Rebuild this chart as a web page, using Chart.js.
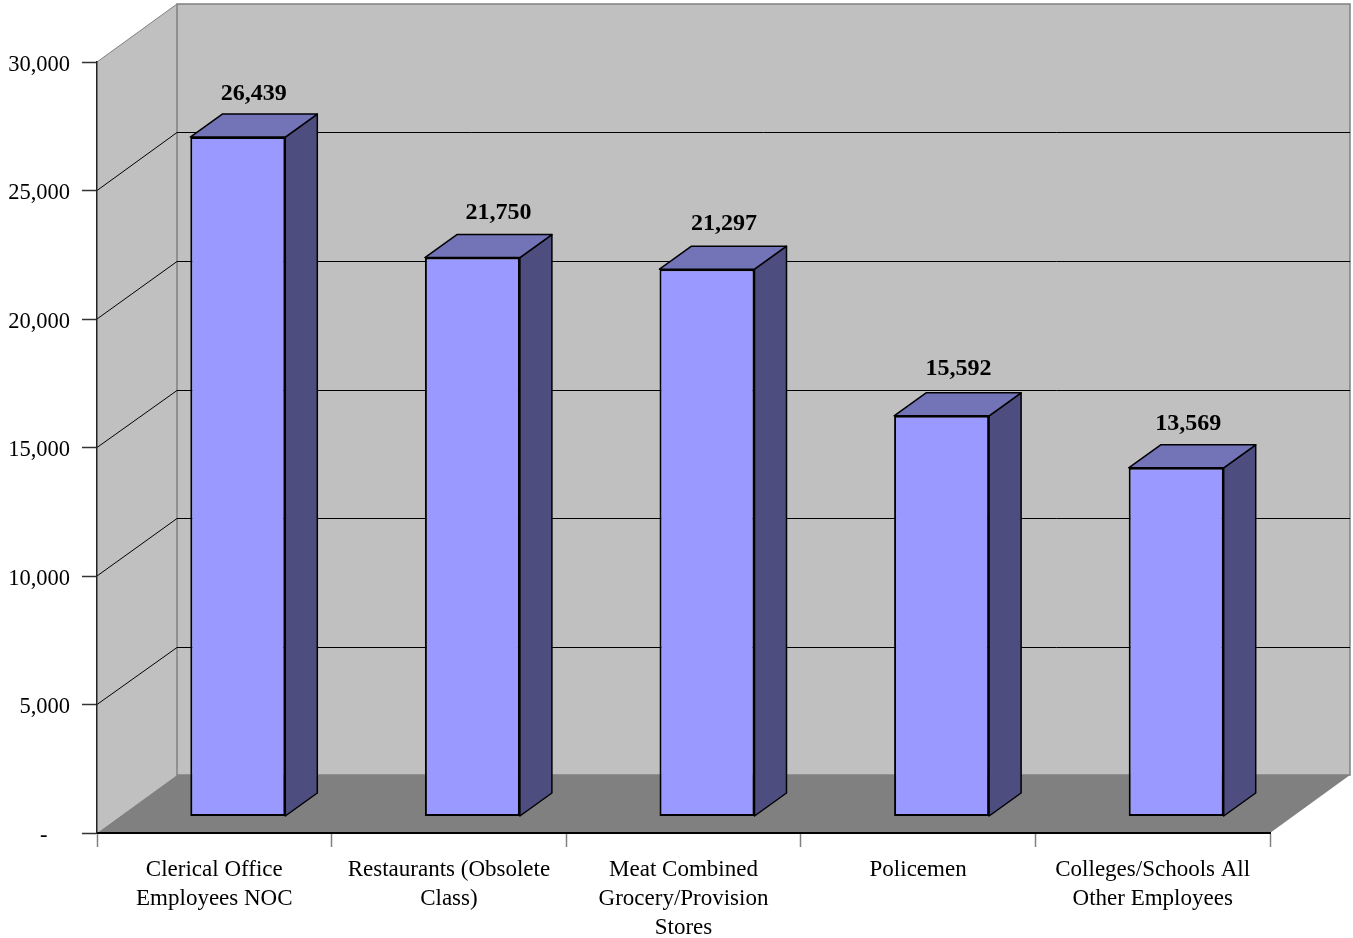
<!DOCTYPE html>
<html>
<head>
<meta charset="utf-8">
<style>
  body { margin: 0; background: #fff; }
  canvas { display: block; }
</style>
<script src="https://cdn.jsdelivr.net/npm/chart.js@4"></script>
</head>
<body>
<canvas id="claims-chart" width="1353" height="938"></canvas>
<script>
const categories = [
    ['Clerical Office', 'Employees NOC'],
    ['Restaurants (Obsolete', 'Class)'],
    ['Meat Combined', 'Grocery/Provision', 'Stores'],
    ['Policemen'],
    ['Colleges/Schools All', 'Other Employees']
];
const values = [26439, 21750, 21297, 15592, 13569];
const yTicks = [0, 5000, 10000, 15000, 20000, 25000, 30000];

const SERIF = '"Liberation Serif", "Times New Roman", serif';
// wall depth and bar depth, in pixels
const WALL = { dx: 80, dy: -58 };
const BAR_SHIFT = { dx: 23.5, dy: -16.5 };
const BAR_DEPTH = { dx: 32, dy: -23 };
// the value labels do not sit evenly over their bars in the original
const LABEL_NUDGE = [[0, 0], [10, -2], [1, -2], [1, -4], [-4, -1]];

function poly(ctx, pts, fill, stroke, lineWidth) {
    ctx.beginPath();
    pts.forEach((p, i) => i ? ctx.lineTo(p[0], p[1]) : ctx.moveTo(p[0], p[1]));
    ctx.closePath();
    if (fill) {
        ctx.fillStyle = fill;
        ctx.fill();
    }
    if (stroke) {
        ctx.strokeStyle = stroke;
        ctx.lineWidth = lineWidth || 1;
        ctx.stroke();
    }
}

const wallsPlugin = {
    id: 'walls',
    beforeDraw(chart) {
        const { ctx, chartArea: a, scales: { y } } = chart;
        const bx = a.left + WALL.dx, dy = WALL.dy;
        const bl = bx + a.right - a.left;
        ctx.save();
        // left wall, back wall, floor
        poly(ctx, [[a.left, a.bottom], [bx, a.bottom + dy], [bx, a.top + dy], [a.left, a.top]], '#c0c0c0');
        poly(ctx, [[bx, a.bottom + dy], [bl, a.bottom + dy], [bl, a.top + dy], [bx, a.top + dy]], '#c0c0c0', '#808080', 1.5);
        poly(ctx, [[a.left, a.bottom], [a.right, a.bottom], [bl, a.bottom + dy], [bx, a.bottom + dy]], '#808080');
        ctx.strokeStyle = '#808080';
        ctx.lineWidth = 1;
        ctx.beginPath();
        ctx.moveTo(a.left, a.top);
        ctx.lineTo(bx, a.top + dy);
        ctx.stroke();
        // gridlines running round the walls
        ctx.strokeStyle = '#000';
        ctx.beginPath();
        yTicks.slice(1, -1).forEach(v => {
            const py = y.getPixelForValue(v);
            const back = Math.round(py + dy) + 0.5;
            ctx.moveTo(a.left, py);
            ctx.lineTo(bx, back);
            ctx.lineTo(bl, back);
        });
        ctx.stroke();
        ctx.restore();
    }
};

const bars3dPlugin = {
    id: 'bars3d',
    beforeDatasetsDraw(chart) {
        const { ctx } = chart;
        ctx.save();
        ctx.translate(BAR_SHIFT.dx, BAR_SHIFT.dy);
        ctx.lineJoin = 'round';
        chart.getDatasetMeta(0).data.forEach(bar => {
            const l = bar.x - bar.width / 2, r = bar.x + bar.width / 2;
            const t = bar.y, b = bar.base;
            const d = BAR_DEPTH;
            poly(ctx, [[r, t], [r + d.dx, t + d.dy], [r + d.dx, b + d.dy], [r, b]], '#4d4d80', '#000', 1.5);
            poly(ctx, [[l, t], [l + d.dx, t + d.dy], [r + d.dx, t + d.dy], [r, t]], '#7373b8', '#000', 1.5);
        });
    },
    afterDatasetsDraw(chart) {
        const { ctx } = chart;
        ctx.textAlign = 'center';
        ctx.textBaseline = 'alphabetic';
        ctx.fillStyle = '#000';
        ctx.font = 'bold 24px ' + SERIF;
        chart.getDatasetMeta(0).data.forEach((bar, i) => {
            const [nx, ny] = LABEL_NUDGE[i];
            ctx.fillText(values[i].toLocaleString('en-US'), bar.x + BAR_DEPTH.dx / 2 + nx, bar.y - 37 + ny);
        });
        ctx.restore();
    }
};

new Chart(document.getElementById('claims-chart'), {
    type: 'bar',
    data: {
        labels: categories,
        datasets: [{
            data: values,
            backgroundColor: '#9999ff',
            borderColor: '#000',
            borderWidth: 2,
            borderSkipped: false,
            barPercentage: 0.405,
            categoryPercentage: 1
        }]
    },
    plugins: [wallsPlugin, bars3dPlugin],
    options: {
        responsive: false,
        animation: false,
        layout: { padding: { top: 62, right: 83, left: 0, bottom: 0 } },
        plugins: { legend: { display: false }, tooltip: { enabled: false } },
        scales: {
            x: {
                afterFit: s => { s.height = 105; },
                border: { color: '#000', width: 2 },
                grid: { offset: true, drawOnChartArea: false, color: '#808080', tickLength: 14, tickWidth: 1.5 },
                ticks: {
                    autoSkip: false, maxRotation: 0, padding: 8, color: '#000',
                    font: { family: SERIF, size: 23, lineHeight: 1.27 }
                }
            },
            y: {
                min: 0,
                max: 30000,
                afterFit: s => { s.width = 97; },
                afterBuildTicks: s => { s.ticks = yTicks.map(v => ({ value: v })); },
                border: { color: '#222', width: 1.5 },
                grid: { drawOnChartArea: false, color: '#333', tickLength: 15, tickWidth: 1.5 },
                ticks: {
                    padding: 12, color: '#000', labelOffset: 3,
                    font: { family: SERIF, size: 22.5 },
                    callback: v => v === 0 ? '-\u00a0\u00a0\u00a0\u00a0' : v.toLocaleString('en-US')
                }
            }
        }
    }
});
</script>
</body>
</html>
